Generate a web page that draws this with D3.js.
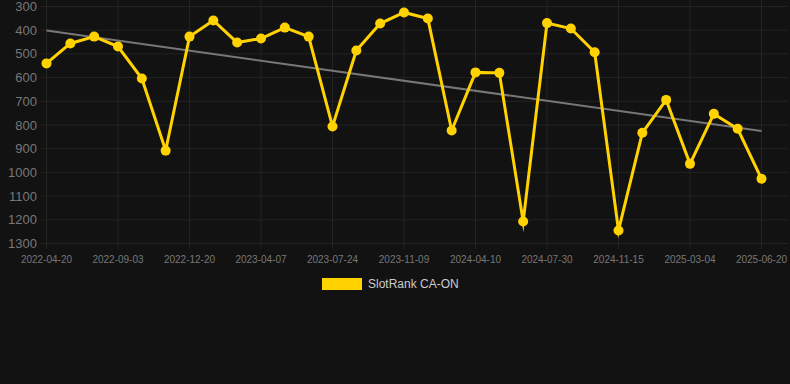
<!DOCTYPE html>
<html lang="en">
<head>
    <meta charset="UTF-8">
    <title>SlotRank CA-ON</title>
    <script src="https://d3js.org/d3.v7.min.js"></script>
    <style>
        html, body { margin: 0; padding: 0; background: #121212; }
        svg { display: block; font-family: "Liberation Sans", Arial, sans-serif; }
    </style>
</head>
<body>
    <div id="chart"></div>

    <script>
        // rank values, one per snapshot (lower = better)
        var rankValues = [540, 456, 427, 469, 604, 908, 427, 359, 452, 435,
                          389, 427, 806, 486, 372, 325, 351, 823, 578, 580,
                          1207, 370, 393, 493, 1245, 833, 694, 964, 753, 816, 1027];

        // only every third point carries a label
        var tickLabels = ["2022-04-20", "2022-09-03", "2022-12-20", "2023-04-07", "2023-07-24",
                          "2023-11-09", "2024-04-10", "2024-07-30", "2024-11-15", "2025-03-04", "2025-06-20"];
        var yTicks = [300, 400, 500, 600, 700, 800, 900, 1000, 1100, 1200, 1300];
        var seriesName = "SlotRank CA-ON";

        var width = 790, height = 384;
        var svg = d3.select("#chart").append("svg")
            .attr("width", width)
            .attr("height", height);

        var idx = d3.range(rankValues.length);
        var x = d3.scalePoint().domain(idx).range([46.5, 761.5]);
        var y = d3.scaleLinear().domain([300, 1300]).range([6.5, 243.5]);

        // grid
        var grid = svg.append("g").attr("class", "grid");
        grid.selectAll(".hline")
            .data(yTicks)
            .enter().append("line")
            .attr("x1", 41).attr("x2", 788)
            .attr("y1", function(d) { return y(d); })
            .attr("y2", function(d) { return y(d); })
            .attr("stroke", "#232323")
            .attr("stroke-width", 1);

        grid.selectAll(".vline")
            .data(tickLabels)
            .enter().append("line")
            .attr("x1", function(d, i) { return x(i * 3); })
            .attr("x2", function(d, i) { return x(i * 3); })
            .attr("y1", 0).attr("y2", 249)
            .attr("stroke", "#232323")
            .attr("stroke-width", 1);

        // y labels
        svg.append("g").selectAll("text")
            .data(yTicks)
            .enter().append("text")
            .attr("x", 37)
            .attr("y", function(d) { return y(d); })
            .attr("dy", "0.35em")
            .attr("text-anchor", "end")
            .attr("fill", "#777")
            .style("font-size", "13px")
            .text(function(d) { return d; });

        // x labels
        svg.append("g").selectAll("text")
            .data(tickLabels)
            .enter().append("text")
            .attr("x", function(d, i) { return x(i * 3); })
            .attr("y", 263)
            .attr("text-anchor", "middle")
            .attr("fill", "#777")
            .style("font-size", "10px")
            .text(function(d) { return d; });

        // trend line (least squares over the series)
        var n = rankValues.length;
        var mx = d3.mean(idx), my = d3.mean(rankValues);
        var sxy = d3.sum(idx, function(i) { return (i - mx) * (rankValues[i] - my); });
        var sxx = d3.sum(idx, function(i) { return (i - mx) * (i - mx); });
        var slope = sxy / sxx;
        var icpt = my - slope * mx;

        svg.append("line")
            .attr("x1", x(0)).attr("y1", y(icpt))
            .attr("x2", x(n - 1)).attr("y2", y(icpt + slope * (n - 1)))
            .attr("stroke", "#777")
            .attr("stroke-width", 2);

        // series line
        var line = d3.line()
            .x(function(d, i) { return x(i); })
            .y(function(d) { return y(d); });

        svg.append("path")
            .datum(rankValues)
            .attr("d", line)
            .attr("fill", "none")
            .attr("stroke", "#ffd200")
            .attr("stroke-width", 3)
            .attr("stroke-linejoin", "miter")
            .attr("stroke-miterlimit", 10);

        svg.selectAll(".dot")
            .data(rankValues)
            .enter().append("circle")
            .attr("class", "dot")
            .attr("cx", function(d, i) { return x(i); })
            .attr("cy", function(d) { return y(d); })
            .attr("r", 5)
            .attr("fill", "#ffd200");

        // legend
        var legend = svg.append("g");
        legend.append("rect")
            .attr("x", 322).attr("y", 278)
            .attr("width", 40).attr("height", 12)
            .attr("fill", "#ffd200");
        legend.append("text")
            .attr("x", 368).attr("y", 284)
            .attr("dy", "0.35em")
            .attr("fill", "#ccc")
            .style("font-size", "12px")
            .text(seriesName);
    </script>
</body>
</html>
